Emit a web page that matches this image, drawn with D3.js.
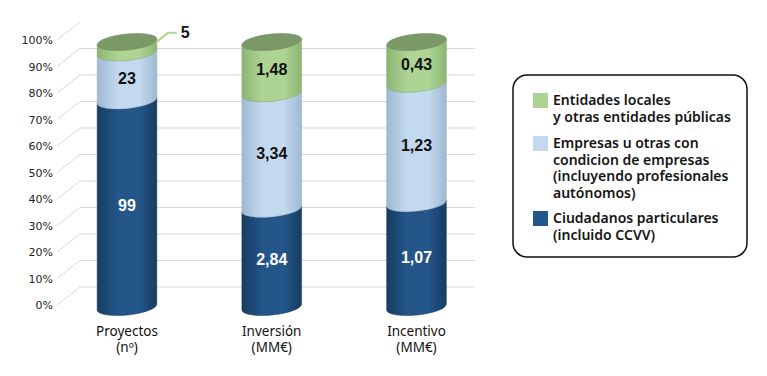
<!DOCTYPE html>
<html lang="es">
<head>
<meta charset="UTF-8">
<title>Distribución por tipo de beneficiario</title>
<script src="https://d3js.org/d3.v7.min.js"></script>
<style>
    body { margin: 0; background: #fff; }
    .tick-label { font-family: "DejaVu Sans", sans-serif; font-size: 11px; fill: #222; }
    .cat-label { font-family: "Noto Sans", sans-serif; font-size: 13.5px; fill: #111; }
    .val-label { font-family: "Liberation Sans", Arial, sans-serif; font-size: 16px; font-weight: bold; }
    .legend-text { font-family: "Noto Sans", sans-serif; font-size: 14px; font-weight: 600; fill: #151515; }
</style>
</head>
<body>
<div id="chart"></div>
<script>
const categories = ["Proyectos", "Inversión", "Incentivo"];
const units = ["(nº)", "(MM€)", "(MM€)"];
const ciudadanos = [99, 2.84, 1.07];
const empresas = [23, 3.34, 1.23];
const entidades = [5, 1.48, 0.43];
const yTicks = [0, 10, 20, 30, 40, 50, 60, 70, 80, 90, 100];

const seriesNames = [
    ["Entidades locales", "y otras entidades públicas"],
    ["Empresas u otras con", "condicion de empresas", "(incluyendo profesionales", "autónomos)"],
    ["Ciudadanos particulares", "(incluido CCVV)"]
];

const W = 767, H = 376;
const svg = d3.select("#chart").append("svg")
    .attr("width", W).attr("height", H);

const y = d3.scaleLinear().domain([0, 100]).range([305, 40]);
const x = d3.scalePoint().domain(categories).range([127, 416.5]);
const depth = { dx: 23, dy: -18 };
const rx = 30, ry = 8, tilt = -6;

// colours: [edge, middle]
const palette = {
    ciud: ["#173d62", "#24568a"],
    emp:  ["#9fb9d3", "#c3d9ef"],
    ent:  ["#8cb574", "#add492"]
};
const topColor = "#7b9967";

const defs = svg.append("defs");
Object.entries(palette).forEach(([k, c]) => {
    const g = defs.append("linearGradient").attr("id", "g-" + k)
        .attr("x1", "0%").attr("x2", "100%").attr("y1", "0%").attr("y2", "0%");
    g.append("stop").attr("offset", "0%").attr("stop-color", c[0]);
    g.append("stop").attr("offset", "35%").attr("stop-color", c[1]);
    g.append("stop").attr("offset", "70%").attr("stop-color", c[1]);
    g.append("stop").attr("offset", "100%").attr("stop-color", c[0]);
});

// back wall grid + diagonals
const grid = svg.append("g");
yTicks.forEach(t => {
    const yf = y(t);
    grid.append("line")
        .attr("x1", 57).attr("y1", yf)
        .attr("x2", 57 + depth.dx).attr("y2", yf + depth.dy)
        .attr("stroke", "#d9d9d9").attr("stroke-width", 1);
    if (t < 100) {
        grid.append("line")
            .attr("x1", 57 + depth.dx).attr("y1", yf + depth.dy)
            .attr("x2", 475).attr("y2", yf + depth.dy)
            .attr("stroke", "#d9d9d9").attr("stroke-width", 1);
    }
});

const axis = svg.append("g").attr("transform", "translate(53,0)")
    .call(d3.axisLeft(y).tickValues(yTicks).tickFormat(d => d + "%").tickSize(0).tickPadding(0));
axis.select(".domain").remove();
axis.selectAll("text").attr("class", "tick-label").attr("font-family", null).attr("font-size", null);

// cylinders
const cy = v => y(v) + 2;
const rad = tilt * Math.PI / 180;
const edgePt = (cx, yc, side) => [cx + side * rx * Math.cos(rad), yc + side * rx * Math.sin(rad)];

function segmentPath(cx, y0, y1) {
    const lb = edgePt(cx, y0, -1), rb = edgePt(cx, y0, 1);
    const rt = edgePt(cx, y1, 1), lt = edgePt(cx, y1, -1);
    return `M${lb}A${rx},${ry} ${tilt} 0 0 ${rb}L${rt}A${rx},${ry} ${tilt} 0 1 ${lt}Z`;
}

const fmt = v => Number.isInteger(v) ? String(v) : v.toFixed(2).replace(".", ",");

categories.forEach((cat, i) => {
    const cx = x(cat);
    const vals = [
        { key: "ciud", v: ciudadanos[i], color: "#fff" },
        { key: "emp", v: empresas[i], color: "#111" },
        { key: "ent", v: entidades[i], color: "#111" }
    ];
    const total = d3.sum(vals, d => d.v);
    let acc = 0;
    vals.forEach(d => {
        d.p0 = acc / total * 100;
        acc += d.v;
        d.p1 = acc / total * 100;
    });
    const g = svg.append("g");
    vals.forEach(d => {
        g.append("path")
            .attr("d", segmentPath(cx, cy(d.p0), cy(d.p1)))
            .attr("fill", `url(#g-${d.key})`)
            .attr("stroke", d3.color(palette[d.key][0]).darker(0.2))
            .attr("stroke-width", 0.5);
    });
    // top cap
    g.append("ellipse")
        .attr("cx", cx).attr("cy", cy(100))
        .attr("rx", rx).attr("ry", ry)
        .attr("transform", `rotate(${tilt},${cx},${cy(100)})`)
        .attr("fill", topColor)
        .attr("stroke", "#6e8c5b").attr("stroke-width", 0.5);

    vals.forEach(d => {
        if (d.p1 - d.p0 < 8) {
            // callout for thin segment
            const p = edgePt(cx, cy(100), 1);
            svg.append("polyline")
                .attr("points", `${p[0]},${p[1] + 3} ${p[0] + 11},${p[1] - 6} ${p[0] + 20},${p[1] - 6}`)
                .attr("fill", "none").attr("stroke", palette.ent[1]).attr("stroke-width", 2);
            svg.append("text").attr("class", "val-label")
                .attr("x", p[0] + 24).attr("y", p[1] - 6).attr("dy", "0.35em")
                .attr("fill", "#111").text(fmt(d.v));
        } else {
            svg.append("text").attr("class", "val-label")
                .attr("x", cx).attr("y", cy((d.p0 + d.p1) / 2) + 2)
                .attr("dy", "0.35em").attr("text-anchor", "middle")
                .attr("fill", d.color).text(fmt(d.v));
        }
    });

    const lab = svg.append("text").attr("class", "cat-label").attr("text-anchor", "middle");
    lab.append("tspan").attr("x", cx).attr("y", 336).text(cat);
    lab.append("tspan").attr("x", cx).attr("y", 352).text(units[i]);
});

// legend
const legend = svg.append("g");
legend.append("rect")
    .attr("x", 513).attr("y", 75).attr("width", 234).attr("height", 182)
    .attr("rx", 14).attr("fill", "#fff").attr("stroke", "#111").attr("stroke-width", 1.5);

const legendKeys = ["ent", "emp", "ciud"];
const legendTops = [100, 143, 218];
legendKeys.forEach((k, i) => {
    legend.append("rect")
        .attr("x", 533).attr("y", legendTops[i] - 7)
        .attr("width", 15).attr("height", 15)
        .attr("fill", palette[k][1]);
    const t = legend.append("text").attr("class", "legend-text");
    seriesNames[i].forEach((line, j) => {
        t.append("tspan").attr("x", 553).attr("y", legendTops[i] + j * 16.7)
            .attr("dy", "0.35em").text(line);
    });
});
</script>
</body>
</html>
